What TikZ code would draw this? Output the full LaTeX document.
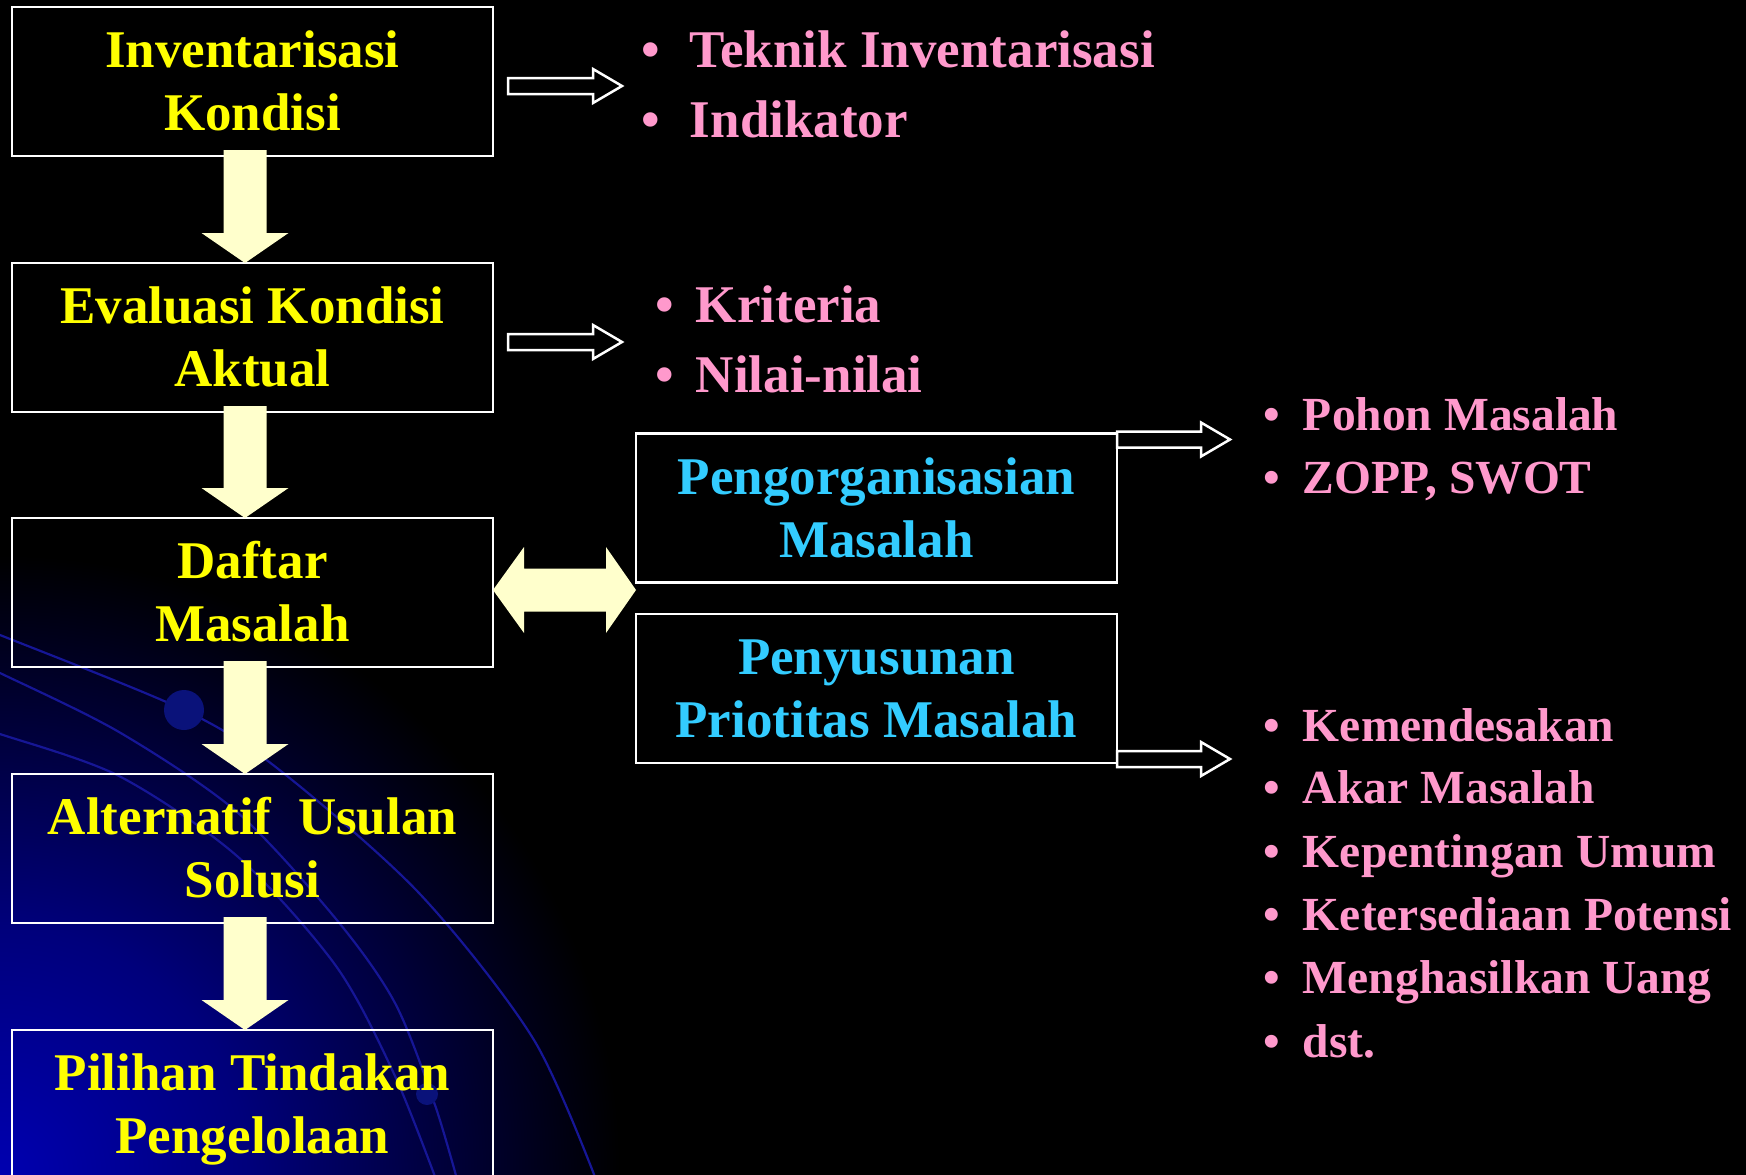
\documentclass[tikz,border=0pt]{standalone}
\usepackage{fontspec}
\setmainfont{Liberation Serif}
\usetikzlibrary{calc}

\definecolor{stageyellow}{HTML}{FFFF00}
\definecolor{taskcyan}{HTML}{33CCFF}
\definecolor{itempink}{HTML}{FF99CC}
\definecolor{blockfill}{HTML}{FFFFCC}
\definecolor{arcblue}{HTML}{161696}
\definecolor{bgblue}{HTML}{0000B0}
\definecolor{dotblue}{HTML}{0A127A}

% blue glow in the lower left corner (25bp is the edge of the filled circle)
\pgfdeclareradialshading{cornerglow}{\pgfpoint{0bp}{0bp}}{color(0bp)=(bgblue); color(10bp)=(bgblue!70!black); color(25bp)=(black); color(50bp)=(black)}

\newcommand\boxfont{\fontsize{53}{63}\selectfont\bfseries}
\newcommand\bigitemfont{\fontsize{53}{63}\selectfont\bfseries}
\newcommand\smallitemfont{\fontsize{47.5}{57}\selectfont\bfseries}
% strut giving every box line the same height and depth
\newcommand\ls{\rule[-13pt]{0pt}{61pt}}

% thick down arrow from the bottom of one box to the top of the next
\newcommand\downblock[2]{%
  \fill[blockarrow] let \p1=($(#1.south)+(-7.5,0)$), \p2=(#2.north) in
    (\x1-21.5pt,\y1+6pt) -- (\x1+21.5pt,\y1+6pt) -- (\x1+21.5pt,\y2+30pt)
    -- (\x1+43.5pt,\y2+30pt) -- (\x1,\y2) -- (\x1-43.5pt,\y2+30pt)
    -- (\x1-21.5pt,\y2+30pt) -- cycle;}
% outlined arrow pointing right; the tip takes only the x of #2
\newcommand\hollowright[2]{%
  \draw[hollowarrow] let \p1=(#1), \p2=(#2) in
    (\x1,\y1+8pt) -- (\x2-29pt,\y1+8pt) -- (\x2-29pt,\y1+17pt) -- (\x2,\y1)
    -- (\x2-29pt,\y1-17pt) -- (\x2-29pt,\y1-8pt) -- (\x1,\y1-8pt) -- cycle;}

\begin{document}
\begin{tikzpicture}[x=1pt,y=-1pt,
  stagebox/.style={draw=white, line width=2.2pt, outer sep=0pt, inner sep=0pt,
    minimum width=481pt, minimum height=149pt, align=center,
    font=\boxfont, text=stageyellow},
  taskbox/.style={stagebox, text=taskcyan},
  bigitem/.style={anchor=base west, inner sep=0pt, outer sep=0pt,
    font=\bigitemfont, text=itempink},
  smallitem/.style={bigitem, font=\smallitemfont},
  blockarrow/.style={fill=blockfill},
  hollowarrow/.style={draw=white, line width=2.5pt, line join=miter},
  arcline/.style={draw=arcblue, line width=2.2pt}]

\useasboundingbox (0,0) rectangle (1746,1175);

\begin{scope}
\clip (0,0) rectangle (1746,1175);
% background
\fill[black] (0,0) rectangle (1746,1175);
\shade[shading=cornerglow] (0,1175) circle[radius=620pt];
\draw[arcline] plot[smooth] coordinates {(-20,628) (0,635) (184,710) (277,768) (419,893) (534,1040) (600,1190)};
\draw[arcline] plot[smooth] coordinates {(-20,664) (0,673) (119,732) (237,812) (336,919) (395,1003) (435,1105) (460,1190)};
\draw[arcline] plot[smooth] coordinates {(-20,728) (0,734) (119,776) (237,856) (336,966) (395,1076) (440,1190)};
\fill[dotblue] (184,710) circle[radius=20pt];
\fill[dotblue] (427,1094) circle[radius=11pt];

% process boxes
\node[stagebox] (b1) at (252.5,81.5) {\ls Inventarisasi\\\ls Kondisi};
\node[stagebox] (b2) at (252.5,337.5) {\ls Evaluasi Kondisi\\\ls Aktual};
\node[stagebox] (b3) at (252.5,592.5) {\ls Daftar\\\ls Masalah};
\node[stagebox] (b4) at (252.5,848.5) {\ls Alternatif\ \ Usulan\\\ls Solusi};
\node[stagebox] (b5) at (252.5,1104.5) {\ls Pilihan Tindakan\\\ls Pengelolaan};
\node[taskbox] (bA) at (876.5,508) {\ls Pengorganisasian\\\ls Masalah};
\node[taskbox] (bB) at (876.5,688.5) {\ls Penyusunan\\\ls Priotitas Masalah};

% bullet lists
\node[bigitem] (l1) at (641.7,67) {•\hspace{29.7pt}Teknik Inventarisasi};
\node[bigitem] (l2) at (641.7,137) {•\hspace{29.7pt}Indikator};
\node[bigitem] (l3) at (655.7,322) {•\hspace{21.7pt}Kriteria};
\node[bigitem] (l4) at (655.7,392) {•\hspace{21.7pt}Nilai-nilai};
\node[smallitem] (r1) at (1263.7,430) {•\hspace{22.7pt}Pohon Masalah};
\node[smallitem] (r2) at (1263.7,493) {•\hspace{22.7pt}ZOPP, SWOT};
\node[smallitem] (r3) at (1263.7,741) {•\hspace{22.7pt}Kemendesakan};
\node[smallitem] (r4) at (1263.7,803) {•\hspace{22.7pt}Akar Masalah};
\node[smallitem] (r5) at (1263.7,867) {•\hspace{22.7pt}Kepentingan Umum};
\node[smallitem] (r6) at (1263.7,930) {•\hspace{22.7pt}Ketersediaan Potensi};
\node[smallitem] (r7) at (1263.7,993) {•\hspace{22.7pt}Menghasilkan Uang};
\node[smallitem] (r8) at (1263.7,1057) {•\hspace{22.7pt}dst.};

% flow arrows
\downblock{b1}{b2}
\downblock{b2}{b3}
\downblock{b3}{b4}
\downblock{b4}{b5}

\fill[blockarrow] let \p1=($(b3.east)+(0,-2.5)$), \p2=(bA.south west) in
  (\x1,\y1) -- (\x1+31pt,\y1+43pt) -- (\x1+31pt,\y1+21.5pt) -- (\x2-30pt,\y1+21.5pt)
  -- (\x2-30pt,\y1+43pt) -- (\x2,\y1) -- (\x2-30pt,\y1-43pt) -- (\x2-30pt,\y1-21.5pt)
  -- (\x1+31pt,\y1-21.5pt) -- (\x1+31pt,\y1-43pt) -- cycle;

\hollowright{$(b1.east)+(15,4.5)$}{$(l1.base west)+(-19.7,0)$}
\hollowright{$(b2.east)+(15,4.5)$}{$(l3.base west)+(-33.7,0)$}
\hollowright{$(bA.north east)+(0,6)$}{$(r1.base west)+(-33.7,0)$}
\hollowright{$(bB.south east)+(0,-4)$}{$(r3.base west)+(-33.7,0)$}
\end{scope}
\end{tikzpicture}
\end{document}
